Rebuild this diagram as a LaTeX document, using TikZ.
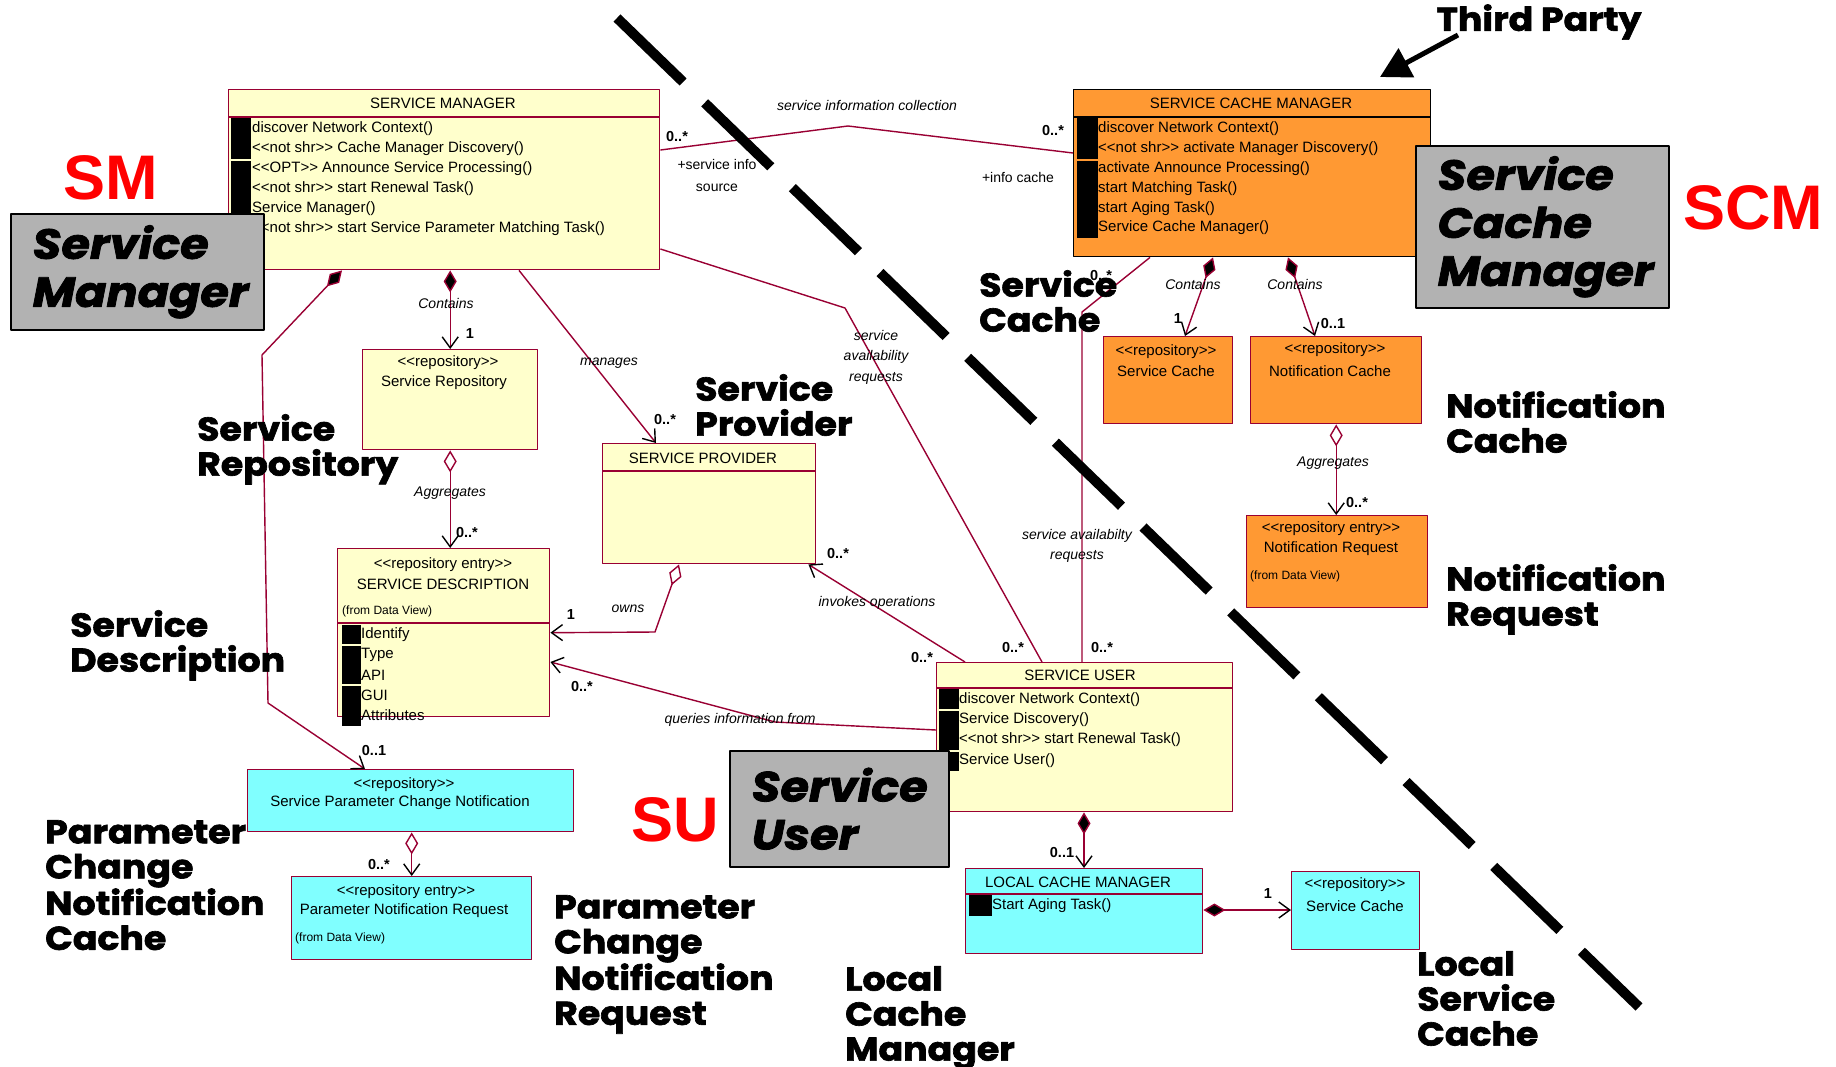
\documentclass[tikz,border=0pt]{standalone}
\usepackage{pgf,tikz}
\usepackage{fontspec}
\setmainfont{Liberation Sans}[Ligatures=TeXOff]
\newfontfamily\heavy{Poppins}[Ligatures=TeXOff,FakeBold=2,FakeStretch=1.1]
\usetikzlibrary{arrows.meta,calc}
\definecolor{umlred}{HTML}{990033}
\definecolor{umlyellow}{HTML}{FFFFCC}
\definecolor{umlorange}{HTML}{FF9933}
\definecolor{umlcyan}{HTML}{80FFFF}
\definecolor{tagred}{HTML}{FF0000}
\definecolor{taggrey}{HTML}{B2B2B2}

\begin{document}
\begin{tikzpicture}[line join=round,x=1pt,y=-1pt,
  box/.style={draw=umlred,line width=1.4pt,anchor=north west,inner sep=0pt},
  txt/.style={font=\fontsize{15}{17}\selectfont,inner sep=0pt},
  row/.style={txt,anchor=west},
  note/.style={font=\fontsize{12}{14}\selectfont,inner sep=0pt,anchor=west},
  lbl/.style={font=\itshape\fontsize{14}{20.5}\selectfont,inner sep=0pt,align=center},
  mult/.style={font=\bfseries\fontsize{14.5}{17}\selectfont,inner sep=0pt},
  assoc/.style={draw=umlred,line width=1.4pt},
  vee/.tip={Straight Barb[length=11pt,width=16pt,line width=1.4pt,color=black]},
  cdia/.tip={Diamond[length=22pt,width=13pt,fill=black,line width=1.4pt]},
  odia/.tip={Diamond[open,length=22pt,width=13pt,line width=1.4pt]},
  tag/.style={font=\heavy\bfseries\fontsize{33}{35}\selectfont,align=left,anchor=north west,inner sep=0pt},
  grey/.style={draw=black,line width=1.5pt,fill=taggrey,anchor=north west,inner xsep=22pt,inner ysep=0pt,
    align=left,font=\heavy\bfseries\itshape\fontsize{42}{48}\selectfont},
  abbr/.style={font=\bfseries\fontsize{63}{70}\selectfont,text=tagred,inner sep=0pt}]
\useasboundingbox (0,0) rectangle (1836,1066);

% bend points
\coordinate (k1) at (262,355);
\coordinate (k2) at (268,703);
\coordinate (k3) at (655,632);
\coordinate (k4) at (775,722);
\coordinate (k5) at (848,126);
\coordinate (k6) at (845,308);
\coordinate (k7) at (1082,312);

% SERVICE MANAGER
\node[box,fill=umlyellow,minimum width=431pt,minimum height=180pt] (sm) at (228,89) {};
\draw[umlred,line width=1.4pt] ([yshift=-28pt]sm.north west) -- ([yshift=-28pt]sm.north east);
\node[txt] (smt) at (443,103) {SERVICE MANAGER};
\fill (231,118) rectangle (251,159);
\fill (231,161) rectangle (251,240);
\node[row] (sm1) at (252,129) {discover Network Context()};
\node[row] (sm2) at (252,149) {<<not shr>> Cache Manager Discovery()};
\node[row] (sm3) at (252,169) {<<OPT>> Announce Service Processing()};
\node[row] (sm4) at (252,189) {<<not shr>> start Renewal Task()};
\node[row] (sm5) at (252,209) {Service Manager()};
\node[row] (sm6) at (252,229) {<<not shr>> start Service Parameter Matching Task()};

% SERVICE CACHE MANAGER
\node[box,draw=black,fill=umlorange,minimum width=357pt,minimum height=167pt] (scm) at (1073,89) {};
\draw[line width=1.4pt] ([yshift=-28pt]scm.north west) -- ([yshift=-28pt]scm.north east);
\node[txt] (scmt) at (1251,103) {SERVICE CACHE MANAGER};
\fill (1077,118) rectangle (1098,159);
\fill (1077,161) rectangle (1098,238);
\node[row] (scm1) at (1098,129) {discover Network Context()};
\node[row] (scm2) at (1098,149) {<<not shr>> activate Manager Discovery()};
\node[row] (scm3) at (1098,169) {activate Announce Processing()};
\node[row] (scm4) at (1098,189) {start Matching Task()};
\node[row] (scm5) at (1098,209) {start Aging Task()};
\node[row] (scm6) at (1098,228) {Service Cache Manager()};

% repositories on the manager side
\node[box,fill=umlyellow,minimum width=175pt,minimum height=100pt] (srep) at (362,349) {};
\node[txt] (srep1) at (448,363) {<<repository>>};
\node[txt] (srep2) at (444,383) {Service Repository};

\node[box,fill=umlyellow,minimum width=212pt,minimum height=168pt] (sdesc) at (337,548) {};
\draw[umlred,line width=1.4pt] ([yshift=-75pt]sdesc.north west) -- ([yshift=-75pt]sdesc.north east);
\node[txt] (sdesc1) at (443,565) {<<repository entry>>};
\node[txt] (sdesc2) at (443,584) {SERVICE DESCRIPTION};
\node[note] (sdesc3) at (342,611) {(from Data View)};
\fill (342,625) rectangle (361,644);
\fill (342,646) rectangle (361,684);
\fill (342,686) rectangle (361,726);
\node[row] (sdesc4) at (361,635) {Identify};
\node[row] (sdesc5) at (361,655) {Type};
\node[row] (sdesc6) at (361,675) {API};
\node[row] (sdesc7) at (361,695) {GUI};
\node[row] (sdesc8) at (361,715) {Attributes};

\node[box,fill=umlyellow,minimum width=213pt,minimum height=120pt] (sprov) at (602,443) {};
\draw[umlred,line width=1.4pt] ([yshift=-28pt]sprov.north west) -- ([yshift=-28pt]sprov.north east);
\node[txt] (sprovt) at (703,458) {SERVICE PROVIDER};

% SERVICE USER and its cache
\node[box,fill=umlyellow,minimum width=296pt,minimum height=149pt] (suser) at (936,662) {};
\draw[umlred,line width=1.4pt] ([yshift=-26pt]suser.north west) -- ([yshift=-26pt]suser.north east);
\node[txt] (susert) at (1080,675) {SERVICE USER};
\fill (939,689) rectangle (959,709);
\fill (939,711) rectangle (959,750);
\fill (939,752) rectangle (959,771);
\node[row] (suser1) at (959,700) {discover Network Context()};
\node[row] (suser2) at (959,720) {Service Discovery()};
\node[row] (suser3) at (959,740) {<<not shr>> start Renewal Task()};
\node[row] (suser4) at (959,761) {Service User()};

\node[box,fill=umlcyan,minimum width=237pt,minimum height=85pt] (lcm) at (965,868) {};
\draw[umlred,line width=1.4pt] ([yshift=-26pt]lcm.north west) -- ([yshift=-26pt]lcm.north east);
\node[txt] (lcmt) at (1078,882) {LOCAL CACHE MANAGER};
\fill (969,895) rectangle (992,916);
\node[row] (lcm1) at (992,906) {Start Aging Task()};

\node[box,fill=umlcyan,minimum width=128pt,minimum height=78pt] (lsc) at (1291,871) {};
\node[txt] (lsc1) at (1355,885) {<<repository>>};
\node[txt] (lsc2) at (1355,906) {Service Cache};

% parameter change notification
\node[box,fill=umlcyan,minimum width=326pt,minimum height=62pt] (spcn) at (247,769) {};
\node[txt] (spcn1) at (404,785) {<<repository>>};
\node[txt] (spcn2) at (400,803) {Service Parameter Change Notification};

\node[box,fill=umlcyan,minimum width=240pt,minimum height=83pt] (pnr) at (291,876) {};
\node[txt] (pnr1) at (406,892) {<<repository entry>>};
\node[txt] (pnr2) at (404,911) {Parameter Notification Request};
\node[note] (pnr3) at (295,938) {(from Data View)};

% third party caches
\node[box,fill=umlorange,minimum width=129pt,minimum height=87pt] (scache) at (1103,336) {};
\node[txt] (scache1) at (1166,352) {<<repository>>};
\node[txt] (scache2) at (1166,371) {Service Cache};

\node[box,fill=umlorange,minimum width=171pt,minimum height=87pt] (ncache) at (1250,336) {};
\node[txt] (ncache1) at (1335,350) {<<repository>>};
\node[txt] (ncache2) at (1330,371) {Notification Cache};

\node[box,fill=umlorange,minimum width=181pt,minimum height=92pt] (nreq) at (1246,515) {};
\node[txt] (nreq1) at (1331,529) {<<repository entry>>};
\node[txt] (nreq2) at (1331,549) {Notification Request};
\node[note] (nreq3) at (1250,576) {(from Data View)};

% associations
\draw[assoc,cdia-vee] (sm.south -| srep.north) -- (srep.north);
\draw[assoc,odia-vee] (srep.south) -- (srep.south |- sdesc.north);
\draw[assoc,-vee] ([xshift=291pt]sm.south west) -- ([xshift=54pt]sprov.north west);
\draw[assoc,cdia-vee] ([xshift=114pt]sm.south west) -- (k1) -- (k2) -- ([xshift=118pt]spcn.north west);
\draw[assoc,odia-vee] (spcn.south -| pnr.north) -- (pnr.north);
\draw[assoc,odia-vee] ([xshift=77pt]sprov.south west) -- (k3) -- (sdesc.east);
\draw[assoc,-vee] ([xshift=29pt]suser.north west) -- ([xshift=-8pt]sprov.south east);
\draw[assoc,-vee] ([yshift=-68pt]suser.north west) -- (k4) -- ([yshift=-114pt]sdesc.north east);
\draw[assoc] ([yshift=-61pt]sm.north east) -- (k5) -- ([yshift=-64pt]scm.north west);
\draw[assoc] ([yshift=-160pt]sm.north east) -- (k6) -- ([xshift=106pt]suser.north west);
\draw[assoc] ([xshift=77pt]scm.south west) -- (k7) -- (suser.north -| k7);
\draw[assoc,cdia-vee] ([xshift=140pt]scm.south west) -- ([xshift=82pt]scache.north west);
\draw[assoc,cdia-vee] ([xshift=215pt]scm.south west) -- ([xshift=65pt]ncache.north west);
\draw[assoc,odia-vee] (ncache.south) -- (ncache.south |- nreq.north);
\draw[assoc,cdia-vee] ([xshift=148pt]suser.south west) -- ([xshift=119pt]lcm.north west);
\draw[assoc,cdia-vee] ([yshift=-42pt]lcm.north east) -- ([yshift=-39pt]lsc.north west);

% association labels
\node[lbl] (l1) at (446,303) {Contains};
\node[mult] (m1) at (470,334) {1};
\node[lbl] (l2) at (450,493) {Aggregates};
\node[mult] (m2) at (467,532) {0..*};
\node[lbl] (l3) at (609,363) {manages};
\node[mult] (m3) at (665,419) {0..*};
\node[mult] (m4) at (374,750) {0..1};
\node[mult] (m5) at (379,864) {0..*};
\node[lbl] (l4) at (628,609) {owns};
\node[mult] (m6) at (571,615) {1};
\node[lbl] (l5) at (877,603) {invokes operations};
\node[mult] (m7) at (838,553) {0..*};
\node[mult] (m8) at (922,657) {0..*};
\node[lbl] (l6) at (740,720) {queries information from};
\node[mult] (m9) at (582,686) {0..*};
\node[lbl] (l7) at (867,105) {service information collection};
\node[mult] (m10) at (677,137) {0..*};
\node[txt,align=center,font=\fontsize{14}{22}\selectfont] (l8) at (717,175) {+service info\\source};
\node[mult] (m11) at (1053,131) {0..*};
\node[txt,font=\fontsize{14}{17}\selectfont] (l9) at (1018,177) {+info cache};
\node[lbl] (l10) at (876,357) {service\\availability\\requests};
\node[mult] (m12) at (1013,647) {0..*};
\node[mult] (m13) at (1101,276) {0..*};
\node[mult] (m14) at (1102,647) {0..*};
\node[lbl,font=\itshape\fontsize{14}{20}\selectfont] (l11) at (1077,546) {service availabilty\\requests};
\node[lbl] (l12) at (1193,284) {Contains};
\node[mult] (m15) at (1178,319) {1};
\node[lbl] (l13) at (1295,284) {Contains};
\node[mult] (m16) at (1333,324) {0..1};
\node[lbl] (l14) at (1333,463) {Aggregates};
\node[mult] (m17) at (1357,502) {0..*};
\node[mult] (m18) at (1062,852) {0..1};
\node[mult] (m19) at (1268,893) {1};

% big captions
\node[tag] (c1) at (695,374) {Service\\Provider};
\node[tag] (c2) at (979,270) {Service\\Cache};
\node[tag] (c3) at (197,414) {Service\\Repository};
\node[tag] (c4) at (70,610) {Service\\Description};
\node[tag] (c5) at (45,820) {Parameter\\Change\\Notification\\Cache};
\node[tag] (c6) at (1446,391) {Notification\\Cache};
\node[tag] (c7) at (1446,564) {Notification\\Request};
\node[tag] (c8) at (554,895) {Parameter\\Change\\Notification\\Request};
\node[tag] (c9) at (845,966) {Local\\Cache\\Manager};
\node[tag] (c10) at (1417,951) {Local\\Service\\Cache};

% grey tags and abbreviations
\node[grey,minimum width=253pt,minimum height=116pt,text width=209pt] (smtag) at (10,213) {Service\\Manager};
\node[grey,minimum width=253pt,minimum height=162pt,text width=209pt] (scmtag) at (1415,145) {Service\\Cache\\Manager};
\node[grey,minimum width=219pt,minimum height=116pt,text width=175pt] (sutag) at (729,750) {Service\\User};
\node[abbr] (smab) at (111,178) {SM};
\node[abbr] (scmab) at (1753,208) {SCM};
\node[abbr] (suab) at (675,820) {SU};

% trust boundary
\coordinate (d1) at (617,18);
\coordinate (d2) at (1639,1007);
\draw[line width=10pt,dash pattern=on 92pt off 30pt] (d1) -- (d2);

% third party pointer
\node[tag,anchor=center] (tp) at (1539,22) {Third Party};
\coordinate (tp1) at (1458,35);
\coordinate (tp2) at (1380,77);
\draw[line width=5pt,-{Triangle[length=30pt,width=32pt]}] (tp1) -- (tp2);
\end{tikzpicture}
\end{document}
